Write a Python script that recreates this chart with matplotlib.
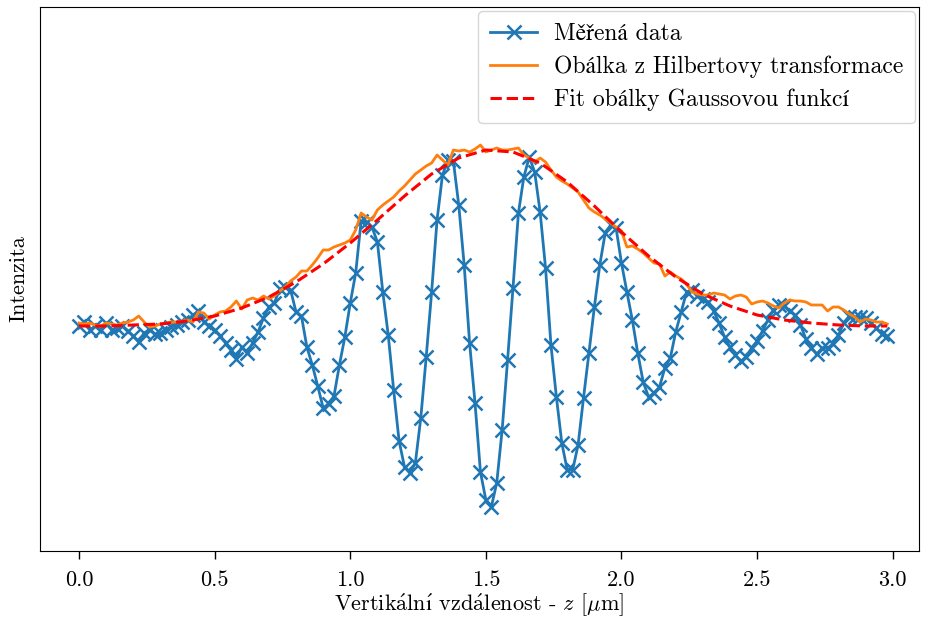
import matplotlib
matplotlib.use("Agg")
import matplotlib.pyplot as plt
import numpy as np

plt.rcParams['font.family'] = ['cmr10', 'STIXGeneral', 'DejaVu Serif']
plt.rcParams['mathtext.fontset'] = 'cm'
plt.rcParams['axes.formatter.use_mathtext'] = True
plt.rcParams['font.size'] = 16

# Measured data (arbitrary intensity units), z step 0.02 um
z_step = 0.02
measured = [
    -1, 3, -5, -1, -5, 2, -5, -3, -1, -6,
    -11, -17, -8, -5, -9, -8, -5, -2, 0, 3,
    5, 10, 14, 3, -1, -5, -11, -18, -25, -34,
    -22, -28, -18, -7, 7, 18, 22, 36, 38, 35,
    13, 9, -22, -40, -61, -83, -79, -71, -40, -12,
    22, 52, 104, 103, 98, 83, 33, -10, -65, -116,
    -142, -148, -138, -93, -32, 33, 105, 150, 165, 164,
    120, 60, -18, -78, -147, -175, -182, -158, -105, -35,
    37, 112, 148, 168, 153, 113, 57, -20, -72, -118,
    -145, -145, -120, -73, -28, 18, 60, 92, 100, 97,
    62, 33, 5, -28, -57, -72, -68, -62, -43, -33,
    -7, 13, 33, 35, 29, 26, 23, 14, 2, -12,
    -22, -30, -36, -32, -23, -16, -6, 5, 15, 20,
    19, 14, 10, 0, -14, -23, -29, -23, -23, -19,
    -10, 2, 9, 8, 8, 7, 2, -3, -9, -11,
]

# Envelope from Hilbert transform (same z grid)
envelope = [
    2, 1, 2, 0, -1, 2, 1, 0, 2, 3,
    5, 9, 3, -2, -1, 1, 2, 3, 3, 4,
    5, 3, 13, 12, 6, 10, 13, 14, 18, 24,
    16, 25, 27, 25, 29, 26, 29, 34, 38, 44,
    48, 54, 54, 60, 67, 75, 75, 78, 80, 82,
    85, 95, 112, 108, 105, 115, 120, 124, 128, 134,
    139, 145, 151, 155, 159, 162, 170, 165, 160, 175,
    174, 175, 173, 176, 180, 173, 175, 177, 175, 175,
    176, 177, 170, 167, 163, 167, 163, 155, 148, 144,
    141, 137, 133, 125, 117, 113, 110, 106, 102, 98,
    94, 78, 79, 76, 72, 67, 62, 61, 49, 53,
    49, 46, 41, 33, 31, 30, 30, 32, 31, 30,
    26, 29, 30, 28, 21, 23, 24, 22, 19, 17,
    22, 25, 24, 24, 23, 20, 20, 20, 14, 18,
    18, 15, 11, 8, 3, 6, 5, 3, 3, 1,
]

# Gaussian fit of the envelope, read at these z positions
fit_z = [0.0, 0.1, 0.2, 0.3, 0.4, 0.5, 0.6, 0.7, 0.8, 0.9, 1.0,
         1.1, 1.2, 1.3, 1.4, 1.5, 1.6, 1.7, 1.8, 1.9, 2.0,
         2.1, 2.2, 2.3, 2.4, 2.5, 2.6, 2.7, 2.8, 2.9, 2.98]
fit_vals = [-1, -1, 0, 1, 4, 9, 17, 28, 43, 61, 82,
            105, 129, 151, 167, 175, 173, 162, 143, 119, 93,
            69, 48, 31, 19, 10, 5, 2, 0, -1, -1]

labels = ["Měřená data", "Obálka z Hilbertovy transformace",
          "Fit obálky Gaussovou funkcí"]
xticks = [0.0, 0.5, 1.0, 1.5, 2.0, 2.5, 3.0]
xlabel = ("Vertik$\\mathrm{\\acute{a}}$ln$\\mathrm{\\acute{\u0131}}$ "
          "vzd$\\mathrm{\\acute{a}}$lenost - $z$ [$\\mu$m]")

z = np.arange(len(measured)) * z_step

fig = plt.figure(figsize=(9.26, 6.2), dpi=100)
ax = fig.add_axes([40/926, 1 - 551/620, 879/926, 544/620])

ax.plot(z, measured, '-x', color='#1f77b4', lw=2.0, ms=10, mew=1.8, label=labels[0])
ax.plot(z, envelope, '-', color='#ff7f0e', lw=2.0, label=labels[1])
ax.plot(fit_z, fit_vals, '--', color='red', lw=2.2, label=labels[2])

ax.set_xlim(-0.144, 3.097)
ax.set_ylim(-226, 318)
ax.set_yticks([])
ax.set_xticks(xticks)
ax.set_xticklabels([f"{t:.1f}" for t in xticks])
ax.tick_params(axis='x', length=6, width=1, pad=8)
ax.set_xlabel(xlabel, labelpad=1)
ax.set_ylabel("Intenzita", labelpad=8)
ax.legend(loc='upper right', fontsize=17, handlelength=2.0, handletextpad=0.7,
          labelspacing=0.45, borderpad=0.5, borderaxespad=0.18)

fig.savefig("out.png", dpi=100)
